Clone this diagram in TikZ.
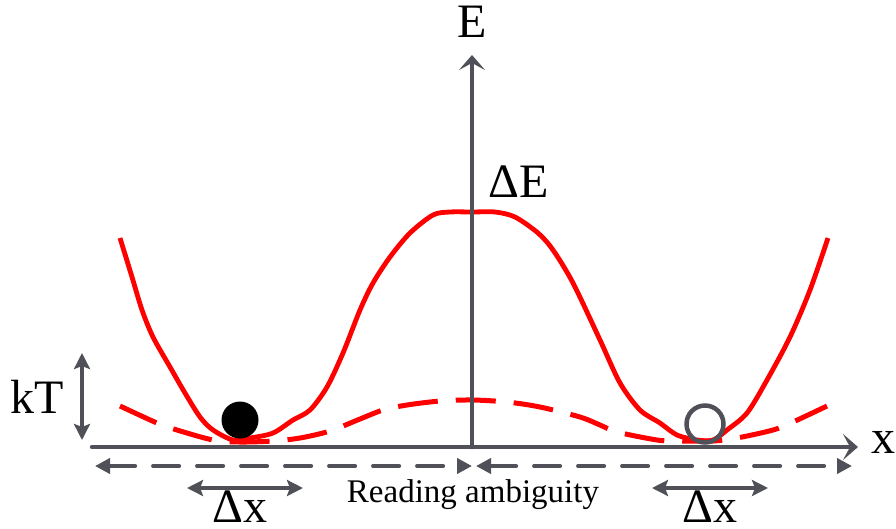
\documentclass[tikz,border=0pt]{standalone}
\usepackage{fontspec}
\setmainfont{Liberation Serif}
\usetikzlibrary{arrows.meta}
\definecolor{axisgray}{HTML}{505058}
\definecolor{curvered}{HTML}{FF0000}
\begin{document}
\begin{tikzpicture}[x=1pt,y=-1pt,
  axisline/.style={axisgray, line width=4.5pt, line cap=round},
  axtip/.style={-{Stealth[length=15pt,width=26pt,inset=7pt]}},
  gdash/.style={axisgray, line width=4pt, line cap=round, dash pattern=on 26pt off 18pt},
  tri/.style={{Triangle[length=15pt,width=15pt]}-{Triangle[length=15pt,width=15pt]}},
  garrow/.style={axisgray, line width=3.5pt, {Stealth[length=16pt,width=16pt,inset=3pt]}-{Stealth[length=16pt,width=16pt,inset=3pt]}},
  redsolid/.style={curvered, line width=4.8pt, line join=round},
  reddash/.style={curvered, line width=5pt, dash pattern=on 40pt off 18pt},
  bigtxt/.style={font=\fontsize{48}{52}\selectfont, inner sep=0pt, text=black},
  smalltxt/.style={font=\fontsize{33}{36}\selectfont, inner sep=0pt, text=black}
]
\useasboundingbox (0,0) rectangle (896,528);

% curves
\draw[redsolid] plot[smooth, tension=0.5] coordinates {
 (120,238) (132,277) (142,310) (153,337) (170,367) (185,393) (200,417) (213,430)
 (233,440) (250,438) (273,433) (293,420) (310,410) (327,387) (343,353) (360,310)
 (373,283) (390,257) (410,233) (433,215) (450,212) (472,212) (495,212) (515,217)
 (538,233) (553,250) (573,283) (600,340) (620,383) (640,410) (660,423) (677,435)
 (697,440) (713,440) (727,430) (747,413) (767,380) (790,337) (810,290) (828,238)};
\draw[reddash] plot[smooth, tension=0.5] coordinates {
 (120,406) (157,423) (177,430) (213,440) (240,442) (273,441) (300,438) (330,431)
 (360,419) (383,410) (407,405) (440,401) (472,400) (507,402) (540,407) (580,417)
 (600,425) (617,432) (657,440) (677,441) (713,441) (737,438) (773,430) (793,422)
 (827,406)};

% axes
\coordinate (xaxL) at (92,447);
\coordinate (xaxR) at (858,447);
\coordinate (yaxB) at (472,447);
\coordinate (yaxT) at (472,55);
\draw[axisline, axtip] (xaxL) -- (xaxR);
\draw[axisline, axtip] (yaxB) -- (yaxT);

% balls
\node[circle, fill=black, minimum size=37pt, inner sep=0pt] (ball1) at (240,420) {};
\node[circle, draw=axisgray, line width=4.5pt, minimum size=37pt, inner sep=0pt] (ball2) at (705,424) {};

% reading ambiguity arrows
\coordinate (raL) at (95,466);
\coordinate (raM1) at (472,466);
\coordinate (raM2) at (476,466);
\coordinate (raR) at (852,466);
\draw[gdash, tri] (raL) -- (raM1);
\draw[gdash, tri] (raM2) -- (raR);

% delta x arrows
\coordinate (dxLa) at (187,488);
\coordinate (dxLb) at (303,488);
\coordinate (dxRa) at (652,488);
\coordinate (dxRb) at (768,488);
\draw[garrow] (dxLa) -- (dxLb);
\draw[garrow] (dxRa) -- (dxRb);

% kT arrow
\coordinate (kTa) at (82,353);
\coordinate (kTb) at (82,440);
\draw[garrow] (kTa) -- (kTb);

% labels
\node[bigtxt, anchor=base] (E) at (472,37) {E};
\node[bigtxt, anchor=base west] (dE) at (488,197) {ΔE};
\node[bigtxt, anchor=base] (kT) at (37,413) {kT};
\node[bigtxt, anchor=base] (xl) at (883,453) {x};
\node[bigtxt, anchor=base] (dxL) at (240,522) {Δx};
\node[bigtxt, anchor=base] (dxR) at (710,522) {Δx};
\node[smalltxt, anchor=base] (ra) at (473,502) {Reading ambiguity};
\end{tikzpicture}
\end{document}
